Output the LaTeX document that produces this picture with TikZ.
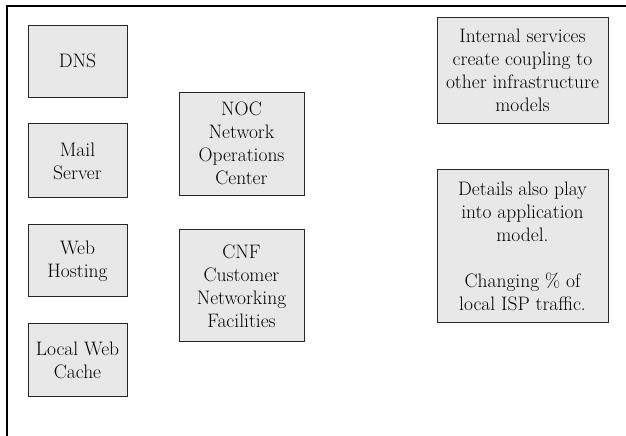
\documentclass[tikz,border=0pt]{standalone}
\usetikzlibrary{positioning}

\tikzset{
  svcbox/.style={draw=black!85, rectangle, fill=black!9, line width=0.9pt, align=center, inner sep=0pt},
  notebox/.style={svcbox, minimum width=171, minimum height=106}
}

\begin{document}
\begin{tikzpicture}[x=1pt, y=-1pt, every node/.style={font=\fontsize{19.5}{23}\selectfont}]
\useasboundingbox (0,0) rectangle (626,436);
\draw[line width=1.5pt] (7,436) -- (7,6) -- (626,6);

% local services
\begin{scope}[node distance=26pt]
\node[svcbox, minimum width=99, minimum height=72] (DNS) at (77.5,61) {DNS};
\node[svcbox, minimum width=99, minimum height=74, below=of DNS] (MAIL) {Mail\\Server};
\node[svcbox, minimum width=99, minimum height=72, below=of MAIL] (WEB) {Web\\Hosting};
\node[svcbox, minimum width=99, minimum height=73, below=of WEB] (CACHE) {Local Web\\Cache};
\end{scope}

% facilities
\begin{scope}[node distance=34pt]
\node[svcbox, minimum width=125, minimum height=103] (NOC) at (241.5,143.5) {NOC\\Network\\Operations\\Center};
\node[svcbox, minimum width=125, minimum height=112, below=of NOC] (CNF) {CNF\\Customer\\Networking\\Facilities};
\end{scope}

% notes
\node[notebox] (COUPLING) at (522.5,70) {Internal services\\create coupling to\\other infrastructure\\models};
\node[notebox, minimum height=153, below=46pt of COUPLING] (DETAILS) {Details also play\\into application\\model.\\[23pt]Changing \% of\\local ISP traffic.};
\end{tikzpicture}
\end{document}
